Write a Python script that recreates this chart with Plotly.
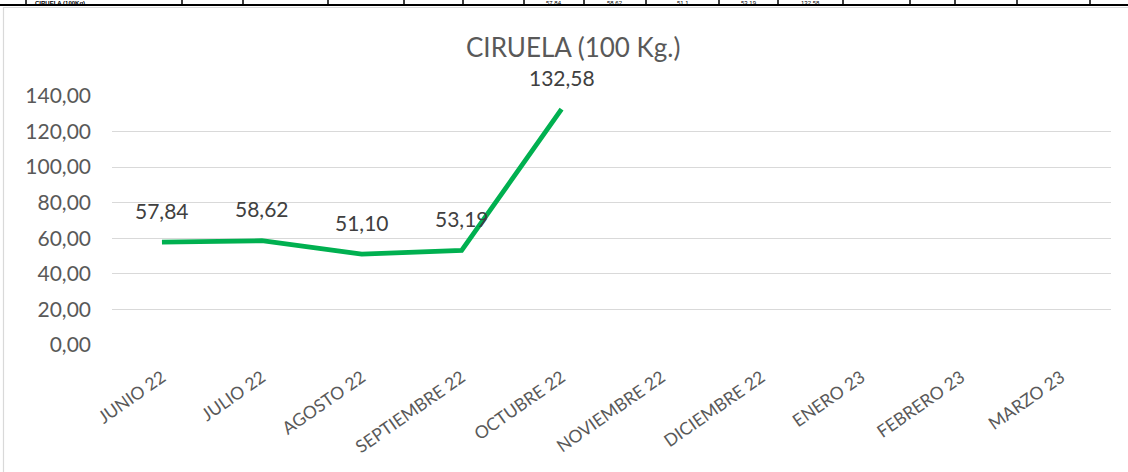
import plotly.graph_objects as go

months = ["JUNIO 22", "JULIO 22", "AGOSTO 22", "SEPTIEMBRE 22", "OCTUBRE 22",
          "NOVIEMBRE 22", "DICIEMBRE 22", "ENERO 23", "FEBRERO 23", "MARZO 23"]
prices = [57.84, 58.62, 51.10, 53.19, 132.58, None, None, None, None, None]
title_text = "CIRUELA (100 Kg.)"
y_ticks = [0, 20, 40, 60, 80, 100, 120, 140]

# spreadsheet row partially visible at the top of the screenshot
table_label = "CIRUELA (100Kg)"
table_values = ["57,84", "58,62", "51,1", "53,19", "132,58"]

L, R, T, B = 112, 17, 96, 127
W_IMG, H_IMG = 1128, 472
PW, PH = W_IMG - L - R, H_IMG - T - B


def px(x):
    return (x - L) / PW


def py(y):
    return (H_IMG - B - y) / PH


def fmt(v):
    return f"{v:.2f}".replace(".", ",")


font_family = "Lato, 'Noto Sans', sans-serif"

fig = go.Figure()
fig.add_trace(go.Scatter(
    x=months, y=prices, mode="lines",
    line=dict(color="#00B050", width=4.8),
    connectgaps=False, hoverinfo="skip", showlegend=False,
))

annotations = []
for m, v in zip(months, prices):
    if v is None:
        continue
    annotations.append(dict(
        x=m, y=v, xref="x", yref="y", text=fmt(v), showarrow=False,
        yshift=32, font=dict(size=21, color="#404040", family=font_family),
    ))

annotations.append(dict(
    x=px(573), y=py(47), xref="paper", yref="paper", text=title_text,
    showarrow=False, xanchor="center", yanchor="middle",
    font=dict(size=26, color="#595959", family=font_family),
))

# table fragments at top
cell_edges = [26, 182, 243, 328, 404, 463, 524, 584, 646, 719, 778, 843, 910, 955, 1017, 1090]
shapes = []
for e in cell_edges:
    shapes.append(dict(type="line", xref="paper", yref="paper",
                       x0=px(e), x1=px(e), y0=py(-2), y1=py(5),
                       line=dict(color="#000000", width=1.5)))
shapes.append(dict(type="line", xref="paper", yref="paper",
                   x0=px(0), x1=px(1128), y0=py(5), y1=py(5),
                   line=dict(color="#000000", width=2)))
# chart border
shapes.append(dict(type="rect", xref="paper", yref="paper",
                   x0=px(3.5), x1=px(1140), y0=py(480), y1=py(7.5),
                   line=dict(color="#D9D9D9", width=1.2), fillcolor="rgba(0,0,0,0)",
                   layer="below"))

small_font = dict(size=6, color="#000000", family="Liberation Sans, Arial")
annotations.append(dict(
    x=px(34), y=py(2.5), xref="paper", yref="paper", text="<b>" + table_label + "</b>",
    showarrow=False, xanchor="left", yanchor="middle", borderpad=0,
    font=small_font,
))
value_cells = [(524, 584), (584, 646), (646, 719), (719, 778), (778, 843)]
for (a, b), t in zip(value_cells, table_values):
    annotations.append(dict(
        x=px((a + b) / 2), y=py(2.5), xref="paper", yref="paper", text=t,
        showarrow=False, xanchor="center", yanchor="middle", borderpad=0,
        font=small_font,
    ))

fig.update_layout(
    width=W_IMG, height=H_IMG,
    margin=dict(l=L, r=R, t=T, b=B, pad=0, autoexpand=False),
    paper_bgcolor="white", plot_bgcolor="white",
    separators=",.",
    annotations=annotations, shapes=shapes,
    font=dict(family=font_family, color="#595959"),
    xaxis=dict(
        type="category", categoryorder="array", categoryarray=months,
        range=[-0.5, len(months) - 0.5], automargin=False,
        showgrid=False, zeroline=False, showline=False,
        tickangle=-35, tickfont=dict(size=17.5, color="#595959"),
        ticks="", ticklabelstandoff=18,
    ),
    yaxis=dict(
        range=[0, 140], tickvals=y_ticks, tickformat=".2f", automargin=False,
        showgrid=True, gridcolor="#D9D9D9", gridwidth=1.3,
        zeroline=False, showline=False,
        tickfont=dict(size=21, color="#595959"),
        ticks="", ticklabelstandoff=20,
    ),
)

fig.write_html("out.html", config={"displayModeBar": False},
               post_script="document.body.style.margin='0';document.body.style.overflow='hidden';")
